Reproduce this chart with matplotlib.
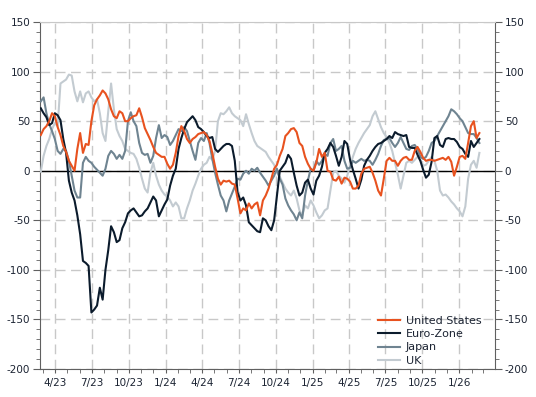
import numpy as np
import pandas as pd
import matplotlib
matplotlib.use("Agg")
import matplotlib.pyplot as plt
import matplotlib.dates as mdates
from matplotlib.ticker import MultipleLocator, FuncFormatter

plt.rcParams["axes.unicode_minus"] = False

# weekly observations, 2023-02-24 .. 2026-02-20
dates = pd.date_range("2023-02-24", periods=157, freq="7D")

us = [36, 42, 45, 50, 58, 55, 44, 36, 25, 19, 10, 5, 0, 22, 38, 18, 27, 26, 50, 66,
      72, 76, 81, 78, 72, 62, 55, 53, 60, 58, 50, 50, 53, 55, 56, 63, 54, 43, 37, 31,
      24, 18, 16, 14, 14, 7, 2, 6, 18, 35, 45, 40, 32, 28, 32, 34, 37, 38, 39, 36,
      30, 18, 4, -8, -14, -10, -11, -10, -13, -14, -28, -43, -38, -40, -33, -38, -34, -32, -45, -30,
      -25, -18, -8, 2, 6, 15, 22, 35, 38, 42, 43, 39, 28, 25, 14, 7, 2, 0, 8, 22,
      14, 18, 0, -1, -9, -10, -6, -13, -7, -8, -11, -18, -18, -15, -3, 2, 3, 4, -2, -10,
      -20, -25, -8, 10, 13, 10, 10, 5, 10, 13, 14, 11, 11, 20, 24, 19, 13, 10, 11, 11,
      10, 11, 12, 13, 11, 14, 9, -5, 4, 14, 15, 12, 28, 45, 50, 33, 38]

euro = [63, 58, 54, 46, 48, 58, 56, 51, 32, 18, -10, -22, -30, -45, -64, -91, -93, -96, -143, -140,
        -136, -118, -130, -100, -80, -56, -62, -72, -70, -58, -52, -43, -40, -38, -42, -46, -45, -41, -38, -32,
        -26, -30, -46, -40, -34, -29, -15, -5, 2, 22, 33, 42, 49, 52, 55, 51, 44, 42, 39, 35,
        33, 34, 22, 19, 22, 25, 27, 27, 25, 10, -22, -30, -27, -35, -52, -55, -58, -61, -62, -48,
        -50, -56, -60, -50, -25, 0, 4, 8, 16, 12, -2, -15, -25, -22, -12, -9, -18, -24, -10, -5,
        4, 18, 22, 28, 24, 15, 5, 14, 30, 27, 11, 1, -8, -18, -9, 5, 11, 15, 20, 24,
        27, 28, 30, 32, 35, 33, 39, 37, 36, 35, 36, 24, 23, 23, 16, 10, 1, -7, -4, 9,
        33, 35, 26, 24, 32, 33, 32, 32, 29, 24, 22, 17, 14, 30, 24, 28, 32]

japan = [70, 74, 58, 47, 40, 32, 20, 17, 22, 20, 10, -5, -20, -27, -27, 8, 14, 10, 8, 4,
         1, -2, -5, 2, 15, 20, 17, 12, 16, 12, 20, 50, 59, 50, 45, 28, 18, 16, 17, 8,
         15, 33, 46, 33, 36, 34, 26, 30, 36, 42, 40, 44, 40, 30, 20, 11, 28, 33, 30, 38,
         28, 12, -2, -14, -25, -30, -41, -30, -23, -16, -8, -9, -3, 0, -3, 2, 0, 3, -2, -6,
         -10, -15, -10, -5, 2, -8, -14, -28, -35, -40, -44, -50, -42, -48, -25, -10, 2, 0, 10, 6,
         10, 17, 15, 28, 32, 20, 22, 25, 10, 2, 3, 10, 8, 10, 12, 10, 11, 10, 6, 11,
         17, 25, 31, 32, 33, 28, 24, 28, 34, 28, 22, 21, 25, 26, 22, 14, 12, 14, 20, 28,
         30, 35, 40, 45, 50, 55, 62, 60, 57, 53, 50, 44, 38, 37, 37, 33, 28]

uk = [-1, 15, 25, 32, 42, 48, 45, 88, 90, 92, 97, 96, 80, 70, 80, 69, 78, 80, 74, 70,
      72, 58, 38, 30, 60, 88, 62, 42, 35, 30, 22, 20, 18, 17, 12, 3, -8, -18, -22, -2,
      8, -5, -14, -20, -24, -26, -30, -36, -32, -36, -48, -48, -38, -30, -20, -13, -5, 2, 6, 8,
      14, 11, 20, 50, 58, 57, 60, 64, 58, 55, 53, 51, 45, 57, 47, 38, 30, 25, 23, 21,
      19, 14, 10, 6, -2, -6, -12, -18, -22, -25, -20, -28, -40, -45, -35, -38, -30, -35, -42, -48,
      -45, -40, -38, -20, -2, 0, -5, -8, -12, -5, 5, 14, 22, 28, 33, 38, 42, 46, 55, 60,
      52, 44, 38, 34, 28, 20, 8, -4, -18, -5, 8, 10, 8, 11, 14, 11, 5, 6, 10, 14,
      10, 0, -20, -25, -24, -27, -31, -34, -38, -41, -46, -36, -8, 6, 10, 3, 18]

series_names = ["United States", "Euro-Zone", "Japan", "UK"]
series_colors = ["#e8521f", "#0b1b2c", "#6f8491", "#c3cbd1"]

fig = plt.figure(figsize=(5.36, 3.97), dpi=100)
ax = fig.add_axes([0.0746, 0.0705, 0.849, 0.874])

ax.axhline(0, color="black", lw=1.0, zorder=1)
# draw order: UK at the back, US on top
for vals, name, col in reversed(list(zip([us, euro, japan, uk], series_names, series_colors))):
    ax.plot(dates, vals, color=col, lw=1.5, label=name, zorder=3)

ax.set_xlim(pd.Timestamp("2023-02-22"), pd.Timestamp("2026-03-31"))
ax.set_ylim(-200, 150)

ax.xaxis.set_major_locator(mdates.MonthLocator(bymonth=[1, 4, 7, 10]))
ax.xaxis.set_minor_locator(mdates.MonthLocator())
ax.xaxis.set_major_formatter(FuncFormatter(lambda v, p: f"{mdates.num2date(v).month}/{mdates.num2date(v):%y}"))
ax.yaxis.set_major_locator(MultipleLocator(50))
ax.yaxis.set_minor_locator(MultipleLocator(10))

ax.grid(True, which="major", color="#c8c8c8", lw=1.0, ls=(0, (7, 4)))
ax.set_axisbelow(True)

for s in ["left", "right", "bottom"]:
    ax.spines[s].set_color("#606060")
ax.spines["top"].set_color("#c8c8c8")

ax.tick_params(axis="both", which="both", direction="out", colors="#606060",
               labelcolor="#1c2433", labelsize=7.5)
ax.tick_params(axis="y", which="both", right=True, labelright=True, pad=2)
ax.tick_params(axis="y", which="major", length=5)
ax.tick_params(axis="y", which="minor", length=3)
ax.tick_params(axis="x", which="both", length=3)

handles, labels = ax.get_legend_handles_labels()
leg = ax.legend(handles[::-1], labels[::-1], loc="lower right", bbox_to_anchor=(0.985, -0.01),
                frameon=False, fontsize=8, handlelength=2.0, labelspacing=0.3,
                handletextpad=0.5, borderaxespad=0.2)
for t in leg.get_texts():
    t.set_color("#1c2433")

fig.savefig("out.png", dpi=100)
